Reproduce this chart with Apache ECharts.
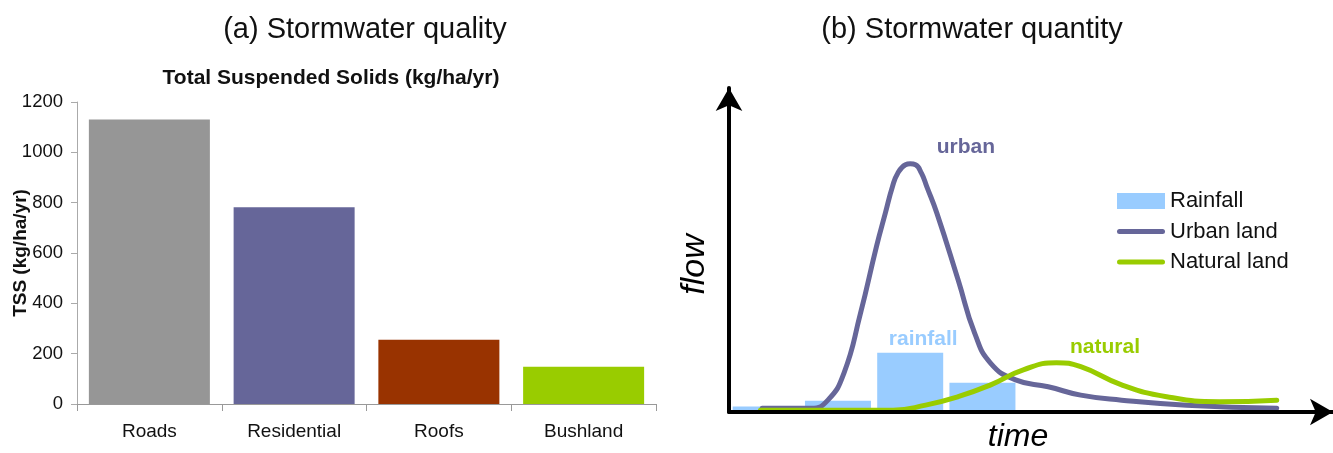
<!DOCTYPE html>
<html>
<head>
<meta charset="utf-8">
<script src="https://cdn.jsdelivr.net/npm/echarts@6/dist/echarts.min.js"></script>
<style>
html,body{margin:0;padding:0;background:#fff;}
#chart{width:1333px;height:453px;}
</style>
</head>
<body>
<div id="chart"></div>
<script>
// ---------- Panel (a): Total Suspended Solids ----------
var tssCategories = ['Roads', 'Residential', 'Roofs', 'Bushland'];
var tssValues = [1130, 782, 255, 148];
var tssColors = ['#969696', '#666699', '#993300', '#99CC00'];
var tssTicks = { min: 0, max: 1200, interval: 200 };

// ---------- Panel (b): Stormwater quantity (schematic) ----------
// time positions and heights in arbitrary units
var rainTime = [6.2, 18.4, 30.6, 42.8];
var rainValue = [1.8, 3.6, 19.0, 9.4];

var urbanTime = [5.6, 13.9, 16.7, 19.4, 22.2, 24.9, 26.4, 27.6, 28.5, 29.8, 30.6, 31.5, 32.5, 33.4, 35.1, 38.7, 41.5, 44.2, 48.4, 53.9, 59.4, 66.3, 77.3, 92.5];
var urbanFlow = [1.2, 1.2, 3.8, 12.4, 31.6, 53.0, 63.7, 72.2, 76.5, 79.2, 79.5, 79.2, 76.5, 72.2, 63.7, 42.3, 25.2, 15.6, 10.3, 8.1, 5.4, 3.8, 2.2, 1.2];

var naturalTime = [5.3, 27.7, 33.2, 38.7, 44.2, 49.7, 55.3, 59.4, 66.3, 73.9, 82.8, 92.5];
var naturalFlow = [0.6, 0.6, 2.2, 4.9, 8.7, 13.5, 15.8, 14.5, 8.7, 4.9, 3.3, 3.8];

var flowAxis = { timeMax: 102.0, flowMax: 103.8 };

var labelPoints = {
  urban: [40.0, 84.9],
  rainfall: [32.8, 23.2],
  natural: [63.5, 20.7]
};

var FONT = '"Liberation Sans", Arial, Helvetica, sans-serif';
var LINE_ICON = 'path://M2.5,0 L45.5,0 A2.5,2.5 0 0 1 45.5,5 L2.5,5 A2.5,2.5 0 0 1 2.5,0 Z';

function pairs(xs, ys) {
  return xs.map(function (x, i) { return [x, ys[i]]; });
}

function tagPoint(coord, text, color) {
  return {
    symbol: 'rect',
    symbolSize: 1,
    silent: true,
    itemStyle: { color: 'rgba(0,0,0,0)' },
    label: {
      show: true, position: 'inside', formatter: text,
      color: color, fontFamily: FONT, fontSize: 21, fontWeight: 'bold'
    },
    data: [{ coord: coord }]
  };
}

var chart = echarts.init(document.getElementById('chart'), null, { renderer: 'canvas' });

var option = {
  backgroundColor: '#ffffff',
  animation: false,
  title: [
    {
      text: '(a) Stormwater quality', left: 365, top: 15, textAlign: 'center', padding: 0,
      textStyle: { fontFamily: FONT, fontSize: 29, fontWeight: 'normal', color: '#111' }
    },
    {
      text: 'Total Suspended Solids (kg/ha/yr)', left: 331, top: 68, textAlign: 'center', padding: 0,
      textStyle: { fontFamily: FONT, fontSize: 21, fontWeight: 'bold', color: '#111' }
    },
    {
      text: '(b) Stormwater quantity', left: 972, top: 15, textAlign: 'center', padding: 0,
      textStyle: { fontFamily: FONT, fontSize: 29, fontWeight: 'normal', color: '#111' }
    }
  ],
  legend: {
    orient: 'vertical',
    left: 1117, top: 190,
    padding: 0,
    itemWidth: 48, itemHeight: 16, itemGap: 8.5,
    symbolKeepAspect: true,
    textStyle: { fontFamily: FONT, fontSize: 22, color: '#111' },
    data: [
      { name: 'Rainfall', icon: 'rect' },
      { name: 'Urban land', icon: LINE_ICON },
      { name: 'Natural land', icon: LINE_ICON }
    ]
  },
  grid: [
    { left: 77, top: 102, right: 677, bottom: 49, containLabel: false, outerBoundsMode: 'none' },
    { left: 729, top: 88, right: 0, bottom: 41, containLabel: false, outerBoundsMode: 'none' }
  ],
  xAxis: [
    {
      gridIndex: 0, type: 'category', data: tssCategories,
      axisLine: { lineStyle: { color: '#999', width: 1 } },
      axisTick: { show: true, length: 7, lineStyle: { color: '#999' } },
      axisLabel: { margin: 18, fontFamily: FONT, fontSize: 19, color: '#111' },
      splitLine: { show: false }
    },
    {
      gridIndex: 1, type: 'value', min: 0, max: flowAxis.timeMax, z: 5,
      name: 'time', nameLocation: 'middle', nameGap: 9, nameMoveOverlap: false,
      nameTextStyle: { fontFamily: FONT, fontSize: 32, fontStyle: 'italic', color: '#000', padding: [0, 26, 0, 0] },
      axisLine: { show: true, symbol: ['none', 'arrow'], symbolSize: [20, 23], lineStyle: { color: '#000', width: 4 } },
      axisTick: { show: false }, axisLabel: { show: false }, splitLine: { show: false }
    }
  ],
  yAxis: [
    {
      gridIndex: 0, type: 'value', min: tssTicks.min, max: tssTicks.max, interval: tssTicks.interval,
      name: 'TSS (kg/ha/yr)', nameLocation: 'middle', nameGap: 47, nameMoveOverlap: false,
      nameTextStyle: { fontFamily: FONT, fontSize: 19, fontWeight: 'bold', color: '#111' },
      axisLine: { show: true, lineStyle: { color: '#aaa', width: 1 } },
      axisTick: { show: true, length: 6, lineStyle: { color: '#aaa' } },
      axisLabel: { margin: 14, fontFamily: FONT, fontSize: 18.5, color: '#111', formatter: function (v) { return String(v); } },
      splitLine: { show: false }
    },
    {
      gridIndex: 1, type: 'value', min: 0, max: flowAxis.flowMax, z: 5,
      name: 'flow', nameLocation: 'middle', nameGap: 17, nameMoveOverlap: false,
      nameTextStyle: { fontFamily: FONT, fontSize: 34, fontStyle: 'italic', color: '#000', padding: [0, 29, 0, 0] },
      axisLine: { show: true, symbol: ['none', 'arrow'], symbolSize: [20, 23], lineStyle: { color: '#000', width: 4 } },
      axisTick: { show: false }, axisLabel: { show: false }, splitLine: { show: false }
    }
  ],
  series: [
    {
      name: 'TSS', type: 'bar', xAxisIndex: 0, yAxisIndex: 0,
      barCategoryGap: '16.4%',
      data: tssValues.map(function (v, i) { return { value: v, itemStyle: { color: tssColors[i] } }; })
    },
    {
      name: 'Rainfall', type: 'bar', xAxisIndex: 1, yAxisIndex: 1,
      barWidth: 66,
      itemStyle: { color: '#99CCFF' },
      data: pairs(rainTime, rainValue),
      markPoint: tagPoint(labelPoints.rainfall, 'rainfall', '#99CCFF')
    },
    {
      name: 'Urban land', type: 'line', xAxisIndex: 1, yAxisIndex: 1,
      smooth: 0.5, symbol: 'none', showSymbol: false,
      itemStyle: { color: '#666699' },
      lineStyle: { color: '#666699', width: 5, cap: 'round', join: 'round' },
      data: pairs(urbanTime, urbanFlow),
      markPoint: tagPoint(labelPoints.urban, 'urban', '#666699')
    },
    {
      name: 'Natural land', type: 'line', xAxisIndex: 1, yAxisIndex: 1,
      smooth: 0.5, symbol: 'none', showSymbol: false,
      itemStyle: { color: '#99CC00' },
      lineStyle: { color: '#99CC00', width: 5, cap: 'round', join: 'round' },
      data: pairs(naturalTime, naturalFlow),
      markPoint: tagPoint(labelPoints.natural, 'natural', '#99CC00')
    }
  ]
};

chart.setOption(option);
</script>
</body>
</html>
